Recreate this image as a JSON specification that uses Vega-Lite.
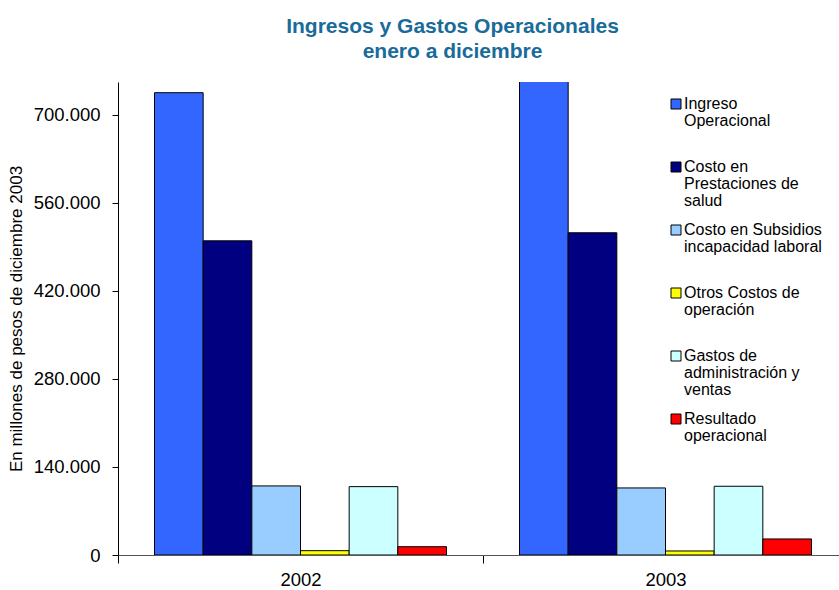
{
  "$schema": "https://vega.github.io/schema/vega-lite/v6.json",
  "width": 721,
  "height": 473,
  "autosize": {"type": "none"},
  "padding": {"left": 118, "top": 82, "right": 0, "bottom": 35},
  "background": "white",
  "config": {
    "view": {"stroke": null},
    "font": "Liberation Sans",
    "locale": {"number": {"decimal": ",", "thousands": ".", "grouping": [3], "currency": ["$", ""]}}
  },
  "title": {
    "text": ["Ingresos y Gastos Operacionales", "enero a diciembre"],
    "font": "Liberation Sans",
    "fontSize": 21,
    "fontWeight": "bold",
    "color": "#196B9A",
    "anchor": "middle",
    "frame": "group",
    "dx": -26,
    "offset": 20,
    "lineHeight": 25
  },
  "data": {
    "values": [
      {"year": "2002", "serie": "Ingreso Operacional", "valor": 735000},
      {"year": "2002", "serie": "Costo en Prestaciones de salud", "valor": 499500},
      {"year": "2002", "serie": "Costo en Subsidios incapacidad laboral", "valor": 109800},
      {"year": "2002", "serie": "Otros Costos de operación", "valor": 6900},
      {"year": "2002", "serie": "Gastos de administración y ventas", "valor": 108700},
      {"year": "2002", "serie": "Resultado operacional", "valor": 13200},
      {"year": "2003", "serie": "Ingreso Operacional", "valor": 775000},
      {"year": "2003", "serie": "Costo en Prestaciones de salud", "valor": 512300},
      {"year": "2003", "serie": "Costo en Subsidios incapacidad laboral", "valor": 106600},
      {"year": "2003", "serie": "Otros Costos de operación", "valor": 6400},
      {"year": "2003", "serie": "Gastos de administración y ventas", "valor": 109300},
      {"year": "2003", "serie": "Resultado operacional", "valor": 25500}
    ]
  },
  "mark": {"type": "bar", "stroke": "black", "strokeWidth": 1, "clip": true},
  "encoding": {
    "x": {
      "field": "year",
      "type": "nominal",
      "scale": {"range": [0, 730], "paddingInner": 0, "paddingOuter": 0},
      "axis": {
        "title": null,
        "labelAngle": 0,
        "tickBand": "extent",
        "tickSize": 8,
        "tickColor": "black",
        "domainColor": "#555555",
        "labelFontSize": 18.5,
        "labelColor": "black",
        "labelPadding": 7
      }
    },
    "xOffset": {
      "field": "serie",
      "type": "nominal",
      "sort": ["Ingreso Operacional", "Costo en Prestaciones de salud", "Costo en Subsidios incapacidad laboral", "Otros Costos de operación", "Gastos de administración y ventas", "Resultado operacional"],
      "scale": {"paddingInner": 0, "paddingOuter": 0.75}
    },
    "y": {
      "field": "valor",
      "type": "quantitative",
      "scale": {"domain": [0, 752000], "nice": false, "zero": true},
      "axis": {
        "values": [0, 140000, 280000, 420000, 560000, 700000],
        "format": ",d",
        "grid": false,
        "tickSize": 6,
        "tickColor": "black",
        "domainColor": "black",
        "labelFontSize": 18.5,
        "labelColor": "black",
        "labelPadding": 12,
        "title": "En millones de pesos de diciembre 2003",
        "titleFontSize": 17,
        "titleFontWeight": "normal",
        "titleColor": "black",
        "titlePadding": 8
      }
    },
    "color": {
      "field": "serie",
      "type": "nominal",
      "sort": ["Ingreso Operacional", "Costo en Prestaciones de salud", "Costo en Subsidios incapacidad laboral", "Otros Costos de operación", "Gastos de administración y ventas", "Resultado operacional"],
      "scale": {
        "domain": ["Ingreso Operacional", "Costo en Prestaciones de salud", "Costo en Subsidios incapacidad laboral", "Otros Costos de operación", "Gastos de administración y ventas", "Resultado operacional"],
        "range": ["#3366FF", "#000080", "#99CCFF", "#FFFF00", "#CCFFFF", "#FF0000"]
      },
      "legend": {
        "orient": "none",
        "legendX": 550,
        "legendY": 14,
        "title": null,
        "padding": 0,
        "symbolType": "square",
        "symbolSize": 100,
        "symbolStrokeColor": "black",
        "symbolStrokeWidth": 1,
        "labelFontSize": 16,
        "labelColor": "black",
        "labelLimit": 0,
        "labelOffset": 0,
        "labelBaseline": "alphabetic",
        "clipHeight": 52,
        "rowPadding": 11,
        "labelExpr": "datum.label == 'Ingreso Operacional' ? ['Ingreso', 'Operacional'] : datum.label == 'Costo en Prestaciones de salud' ? ['Costo en', 'Prestaciones de', 'salud'] : datum.label == 'Costo en Subsidios incapacidad laboral' ? ['Costo en Subsidios', 'incapacidad laboral'] : datum.label == 'Otros Costos de operación' ? ['Otros Costos de', 'operación'] : datum.label == 'Gastos de administración y ventas' ? ['Gastos de', 'administración y', 'ventas'] : ['Resultado', 'operacional']",
        "encode": {
          "symbols": {"update": {"y": {"value": 8}}},
          "labels": {"update": {"y": {"value": 8}, "dy": {"value": 5}, "lineHeight": {"value": 17}}}
        }
      }
    }
  }
}
